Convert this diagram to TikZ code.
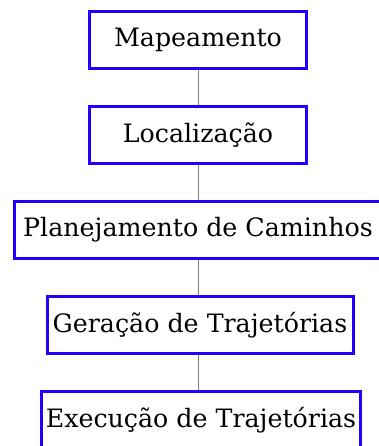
\documentclass[tikz,border=0pt]{standalone}
\usepackage{fontspec}
\setmainfont{DejaVu Serif}
\usetikzlibrary{positioning}

\definecolor{boxblue}{RGB}{35,0,252}

\begin{document}
\begin{tikzpicture}[x=1pt, y=1pt, node distance=35pt,
    stage/.style={rectangle, draw=boxblue, line width=3pt, minimum height=57pt, inner xsep=4pt, font=\fontsize{25.3}{30}\selectfont},
    link/.style={-, draw=gray, line width=1pt}]
        \useasboundingbox (0,0) rectangle (379,-446);
        %% Stages
    	\node[stage, minimum width=217pt] (map) at (198,-40) {Mapeamento};
    	\node[stage, minimum width=217pt, below=of map] (loc) {Localização};
    	\node[stage, minimum width=367pt, below=of loc] (plan) {Planejamento de Caminhos};
    	\node[stage, minimum width=306pt, below=of plan, xshift=2pt] (ger) {Geração de Trajetórias};
    	\node[stage, minimum width=318pt, below=of ger, xshift=1pt] (exec) {Execução de Trajetórias};
    	
    	%% Links
    	\draw[link] (map) -- (loc);
    	\draw[link] (loc) -- (plan);
    	\draw[link] (plan.south -| map) -- (ger.north -| map);
    	\draw[link] (ger.south -| map) -- (exec.north -| map);
\end{tikzpicture}
\end{document}
